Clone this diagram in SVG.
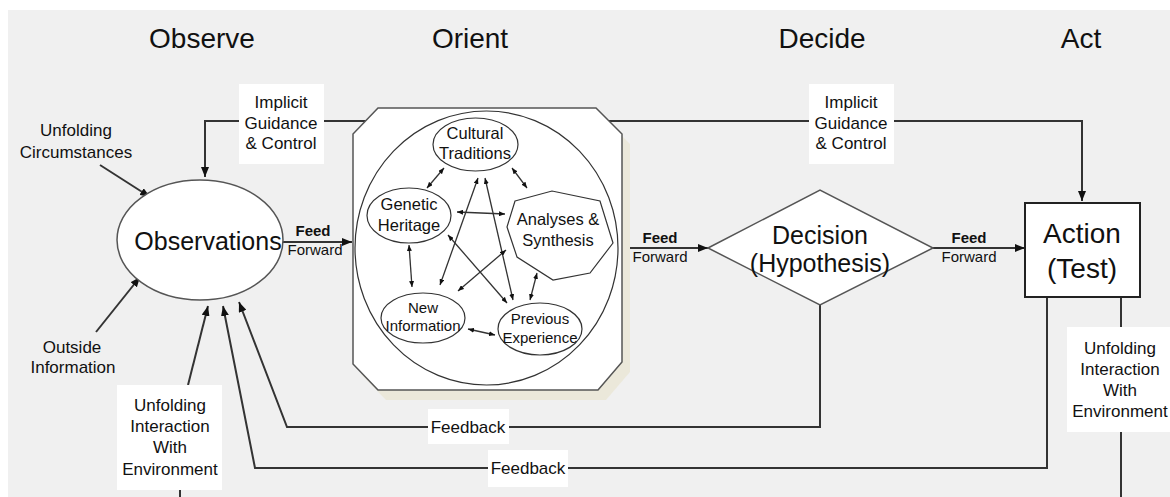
<svg xmlns="http://www.w3.org/2000/svg" width="1170" height="497" viewBox="0 0 1170 497">
<defs>
<style>
text{font-family:"Liberation Sans",Arial,sans-serif;fill:#111;text-anchor:middle}
.h{font-size:28px}
.big{font-size:25px}
.act{font-size:28px}
.lab{font-size:17px}
.inner{font-size:16.5px}
.ff1{font-size:15px;font-weight:bold}
.ff2{font-size:15px}
.ln{fill:none;stroke:#333;stroke-width:2}
.thin{fill:none;stroke:#333;stroke-width:1.3}
.box{fill:#fff;stroke:none}
.node{fill:#fff;stroke:#555;stroke-width:1.5}
.sub{fill:#fff;stroke:#333;stroke-width:1.2}
</style>
<marker id="ah" viewBox="0 0 10 8" refX="10" refY="4" markerWidth="10" markerHeight="8" orient="auto" markerUnits="userSpaceOnUse"><path d="M0,0 L10,4 L0,8 z" fill="#111"/></marker>
<marker id="sa" viewBox="0 0 6 5" refX="6" refY="2.5" markerWidth="6" markerHeight="5" orient="auto-start-reverse" markerUnits="userSpaceOnUse"><path d="M0,0 L6,2.5 L0,5 z" fill="#111"/></marker>
</defs>
<rect x="0" y="0" width="1170" height="497" fill="#fff"/>
<rect x="8" y="10" width="1162" height="487" fill="#f0f0f0"/>

<g id="headings">
<text class="h" x="202" y="48">Observe</text>
<text class="h" x="470" y="48">Orient</text>
<text class="h" x="822" y="48">Decide</text>
<text class="h" x="1081" y="48">Act</text>
</g>

<g id="connectors">
<path class="ln" d="M366,121 H205 V177" marker-end="url(#ah)"/>
<path class="ln" d="M608,121 H1082 V201" marker-end="url(#ah)"/>
<path class="ln" d="M100,165 L150,197" marker-end="url(#ah)"/>
<path class="ln" d="M96,332 L140,277" marker-end="url(#ah)"/>
<path class="ln" d="M188,385 L208,306" marker-end="url(#ah)"/>
<path class="ln" d="M180,490 V497"/>
<path class="ln" d="M820,305 V427 H287 L239,302" marker-end="url(#ah)"/>
<path class="ln" d="M1047,297 V468 H255 L223,306" marker-end="url(#ah)"/>
<path class="ln" d="M1121,297 V497"/>
<path class="ln" d="M283,242 H352" marker-end="url(#ah)"/>
<path class="ln" d="M622,248 H708" marker-end="url(#ah)"/>
<path class="ln" d="M933,248 H1025" marker-end="url(#ah)"/>

<rect class="box" x="239" y="84" width="85" height="80"/>
<text class="lab" x="281" y="108">Implicit</text>
<text class="lab" x="281" y="129">Guidance</text>
<text class="lab" x="281" y="149">&amp; Control</text>

<rect class="box" x="809" y="84" width="85" height="80"/>
<text class="lab" x="851" y="108">Implicit</text>
<text class="lab" x="851" y="129">Guidance</text>
<text class="lab" x="851" y="149">&amp; Control</text>

<text class="lab" x="76" y="136">Unfolding</text>
<text class="lab" x="76" y="158">Circumstances</text>

<text class="lab" x="72" y="353">Outside</text>
<text class="lab" x="73" y="373">Information</text>

<rect class="box" x="117" y="385" width="105" height="105"/>
<text class="lab" x="170" y="411">Unfolding</text>
<text class="lab" x="170" y="432">Interaction</text>
<text class="lab" x="170" y="453">With</text>
<text class="lab" x="170" y="475">Environment</text>

<rect class="box" x="1067" y="327" width="103" height="105"/>
<text class="lab" x="1120" y="354">Unfolding</text>
<text class="lab" x="1120" y="375">Interaction</text>
<text class="lab" x="1120" y="396">With</text>
<text class="lab" x="1120" y="417">Environment</text>

<rect class="box" x="428" y="409" width="81" height="35"/>
<text class="lab" x="468" y="433">Feedback</text>
<rect class="box" x="488" y="450" width="80" height="37"/>
<text class="lab" x="528" y="474">Feedback</text>

<text class="ff1" x="313" y="236">Feed</text>
<text class="ff2" x="315" y="255">Forward</text>
<text class="ff1" x="660" y="243">Feed</text>
<text class="ff2" x="660" y="262">Forward</text>
<text class="ff1" x="969" y="243">Feed</text>
<text class="ff2" x="969" y="262">Forward</text>
</g>

<g id="observations">
<ellipse class="node" cx="200" cy="240" rx="83" ry="60"/>
<text class="big" x="208" y="250">Observations</text>
</g>

<g id="orient">
<polygon points="386,118 604,118 630,144 630,372 606,400 386,400 361,374 361,144" fill="#ebe8da"/>
<polygon points="378,108 596,108 622,134 622,362 598,390 378,390 353,364 353,134" fill="#fff" stroke="#555" stroke-width="1.5"/>
<ellipse cx="486.5" cy="248" rx="131.5" ry="137" fill="none" stroke="#333" stroke-width="1.2"/>
<g id="cultural-traditions">
<ellipse class="sub" cx="475.5" cy="144.5" rx="42.5" ry="26.5"/>
<text class="inner" x="475" y="139">Cultural</text>
<text class="inner" x="475" y="159">Traditions</text>
</g>
<g id="genetic-heritage">
<ellipse class="sub" cx="409" cy="215.5" rx="42" ry="27.5"/>
<text class="inner" x="409" y="210">Genetic</text>
<text class="inner" x="409" y="231">Heritage</text>
</g>
<g id="analyses-synthesis">
<polygon class="sub" points="515,201 552,191 600,201 613,243 590,273 553,280 517,257 507,227"/>
<text class="inner" x="558" y="225">Analyses &amp;</text>
<text class="inner" x="558" y="246">Synthesis</text>
</g>
<g id="new-information">
<ellipse class="sub" cx="423" cy="318" rx="42" ry="25"/>
<text style="font-size:15px" x="423" y="313">New</text>
<text style="font-size:15px" x="423" y="331">Information</text>
</g>
<g id="previous-experience">
<ellipse class="sub" cx="540" cy="329" rx="42" ry="26"/>
<text style="font-size:15px" x="540" y="324">Previous</text>
<text style="font-size:15px" x="540" y="343">Experience</text>
</g>
<g id="orient-links">
<path class="thin" d="M444,168 L427,188" marker-start="url(#sa)" marker-end="url(#sa)"/>
<path class="thin" d="M512,168 L527,188" marker-start="url(#sa)" marker-end="url(#sa)"/>
<path class="thin" d="M457,212 L505,214" marker-start="url(#sa)" marker-end="url(#sa)"/>
<path class="thin" d="M409,245 L412,287" marker-start="url(#sa)" marker-end="url(#sa)"/>
<path class="thin" d="M468,329 L495,335" marker-start="url(#sa)" marker-end="url(#sa)"/>
<path class="thin" d="M537,273 L530,300" marker-start="url(#sa)" marker-end="url(#sa)"/>
<path class="thin" d="M478,178 L440,285" marker-start="url(#sa)" marker-end="url(#sa)"/>
<path class="thin" d="M485,178 L513,300" marker-start="url(#sa)" marker-end="url(#sa)"/>
<path class="thin" d="M448,235 L507,303" marker-start="url(#sa)" marker-end="url(#sa)"/>
<path class="thin" d="M506,250 L458,291" marker-start="url(#sa)" marker-end="url(#sa)"/>
</g>
</g>

<g id="decision">
<polygon class="node" points="708,248 820,190 933,248 820,305"/>
<text class="big" x="820" y="244">Decision</text>
<text class="big" x="820" y="272">(Hypothesis)</text>
</g>

<g id="action">
<rect x="1025" y="203" width="115" height="94" fill="#fff" stroke="#222" stroke-width="2"/>
<text class="act" x="1082" y="243">Action</text>
<text class="act" x="1082" y="278">(Test)</text>
</g>
</svg>
